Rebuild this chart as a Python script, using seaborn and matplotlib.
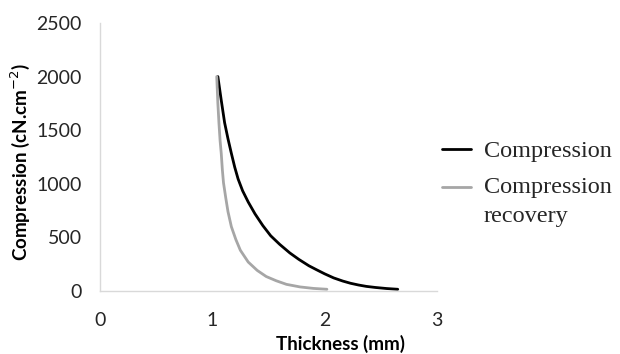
import matplotlib
matplotlib.use("Agg")
import matplotlib.pyplot as plt
import seaborn as sns
import pandas as pd

# Compression curve (thickness in mm, pressure in cN/cm^2)
compression_x = [1.05, 1.08, 1.11, 1.14, 1.17, 1.20, 1.23, 1.27, 1.32, 1.38, 1.45, 1.52, 1.60, 1.69, 1.77,
                 1.86, 1.93, 2.00, 2.08, 2.16, 2.23, 2.30, 2.37, 2.45, 2.55, 2.65]
compression_y = [2000, 1780, 1570, 1420, 1284, 1155, 1045, 935, 830, 720, 610, 515, 435, 355, 295,
                 235, 197, 160, 122, 93, 72, 56, 43, 33, 23, 16]

# Compression recovery curve
recovery_x = [1.04, 1.05, 1.06, 1.07, 1.08, 1.09, 1.10, 1.12, 1.14, 1.17, 1.21, 1.25, 1.32, 1.40, 1.48,
              1.57, 1.66, 1.78, 1.90, 2.02]
recovery_y = [2000, 1750, 1560, 1400, 1284, 1130, 1010, 870, 740, 600, 480, 380, 270, 192, 135,
              95, 62, 38, 24, 16]

series_names = ["Compression", "Compression\nrecovery"]
series_colors = ["#000000", "#a6a6a6"]

x_ticks = [0, 1, 2, 3]
y_ticks = [0, 500, 1000, 1500, 2000, 2500]

df = pd.concat([
    pd.DataFrame({"Thickness": compression_x, "Compression": compression_y, "Series": series_names[0]}),
    pd.DataFrame({"Thickness": recovery_x, "Compression": recovery_y, "Series": series_names[1]}),
], ignore_index=True)

sns.set_theme(style="white")
plt.rcParams["font.family"] = ["Lato", "DejaVu Sans"]

fig = plt.figure(figsize=(6.2, 3.54), dpi=100)
ax = fig.add_axes([0.161, 0.178, 0.544, 0.757])

sns.lineplot(data=df, x="Thickness", y="Compression", hue="Series",
             palette=dict(zip(series_names, series_colors)), linewidth=2.0,
             ax=ax, sort=False, estimator=None)

ax.set_xlim(0, 3)
ax.set_ylim(0, 2500)
ax.set_xticks(x_ticks)
ax.set_yticks(y_ticks)
ax.tick_params(axis="both", length=0, labelsize=14, colors="#262626")
ax.tick_params(axis="y", pad=13)
ax.tick_params(axis="x", pad=15)

for side in ["top", "right"]:
    ax.spines[side].set_visible(False)
for side in ["left", "bottom"]:
    ax.spines[side].set_color("#d9d9d9")
    ax.spines[side].set_linewidth(1.0)

ax.set_xlabel("Thickness (mm)", fontsize=13.5, fontweight="bold", color="#000000")
ax.xaxis.set_label_coords(0.715, -0.163)
ax.xaxis.label.set_va("top")
ax.set_ylabel("Compression (cN.cm$^{-2}$)", fontsize=13.5, fontweight="bold", color="#000000")
ax.yaxis.set_label_coords(-0.236, 0.483)
ax.yaxis.label.set_va("center")

leg = fig.legend(*ax.get_legend_handles_labels(), loc="upper left",
                 bbox_to_anchor=(442 / 620, 1 - 140 / 354), frameon=False,
                 borderpad=0, borderaxespad=0,
                 handlelength=1.2, handletextpad=0.52, labelspacing=0.62,
                 prop={"family": "Liberation Serif", "size": 17.5})
ax.get_legend().remove()
for line in leg.get_lines():
    line.set_linewidth(2.0)
for text in leg.get_texts():
    text.set_linespacing(1.5)

# keep the two-line entry's swatch level with its first line of text
second = leg.get_lines()[1]
second.set_ydata([v + 10.5 for v in second.get_ydata()])

fig.savefig("out.png", dpi=100, facecolor="white")
